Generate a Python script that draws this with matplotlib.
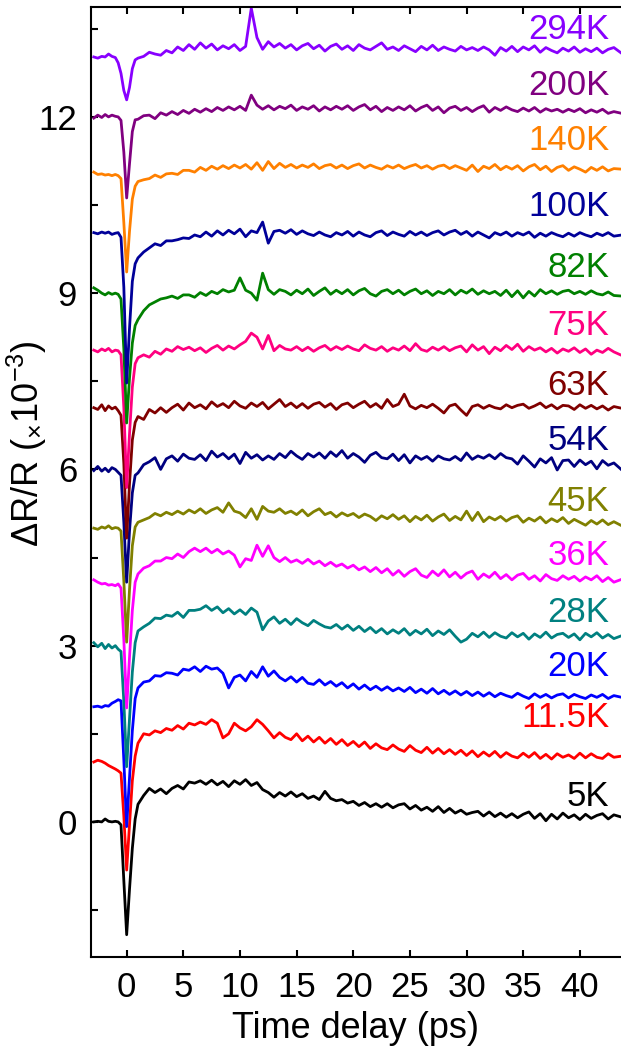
import numpy as np
import matplotlib.pyplot as plt

plt.rcParams['font.family'] = ['Liberation Sans', 'DejaVu Sans']
plt.rcParams['mathtext.fontset'] = 'custom'
plt.rcParams['mathtext.rm'] = 'Liberation Sans'
plt.rcParams['mathtext.it'] = 'Liberation Sans:italic'

# time delay (ps)
t = [-2.9, -2.55, -2.2, -1.9, -1.6, -1.3, -1.0, -0.75, -0.5, -0.25,
     0.0, 0.25, 0.5, 0.75, 1.0, 1.5, 2.0, 2.5, 3.0, 3.5,
     4.0, 4.5, 5.0, 5.5, 6.0, 6.5, 7.0, 7.5, 8.0, 8.5,
     9.0, 9.5, 10.0, 10.5, 11.0, 11.5, 12.0, 12.5, 13.0, 13.5,
     14.0, 14.5, 15.0, 15.5, 16.0, 16.5, 17.0, 17.5, 18.0, 18.5,
     19.0, 19.5, 20.0, 20.5, 21.0, 21.5, 22.0, 22.5, 23.0, 23.5,
     24.0, 24.5, 25.0, 25.5, 26.0, 26.5, 27.0, 27.5, 28.0, 28.5,
     29.0, 29.5, 30.0, 30.5, 31.0, 31.5, 32.0, 32.5, 33.0, 33.5,
     34.0, 34.5, 35.0, 35.5, 36.0, 36.5, 37.0, 37.5, 38.0, 38.5,
     39.0, 39.5, 40.0, 40.5, 41.0, 41.5, 42.0, 42.5, 43.0, 43.7]

# dR/R (x1e-3), raw traces
dr_5K = [0.00, 0.01, 0.00, 0.05, 0.01, 0.00, 0.01, 0.00, -0.05, -1.00,
         -1.92, -1.15, -0.45, 0.05, 0.30, 0.45, 0.57, 0.50, 0.56, 0.48,
         0.57, 0.62, 0.56, 0.68, 0.66, 0.70, 0.64, 0.71, 0.63, 0.69,
         0.60, 0.70, 0.64, 0.72, 0.62, 0.67, 0.55, 0.50, 0.42, 0.50,
         0.44, 0.51, 0.43, 0.48, 0.40, 0.44, 0.38, 0.52, 0.40, 0.36,
         0.38, 0.32, 0.35, 0.28, 0.33, 0.26, 0.31, 0.25, 0.31, 0.24,
         0.29, 0.31, 0.22, 0.28, 0.20, 0.25, 0.18, 0.26, 0.16, 0.23,
         0.15, 0.20, 0.13, 0.16, 0.18, 0.10, 0.17, 0.09, 0.15, 0.08,
         0.14, 0.07, 0.13, 0.17, 0.06, 0.14, 0.02, 0.13, 0.05, 0.15,
         0.07, 0.12, 0.04, 0.13, 0.06, 0.11, 0.14, 0.05, 0.12, 0.08]
dr_11K = [0.02, 0.05, 0.03, 0.00, -0.04, -0.07, -0.10, -0.13, -0.17, -0.90,
          -1.82, -1.05, -0.30, 0.12, 0.34, 0.50, 0.48, 0.55, 0.52, 0.59,
          0.56, 0.64, 0.58, 0.68, 0.65, 0.70, 0.66, 0.74, 0.68, 0.43,
          0.50, 0.68, 0.60, 0.55, 0.62, 0.74, 0.66, 0.55, 0.43, 0.52,
          0.44, 0.40, 0.50, 0.38, 0.46, 0.36, 0.44, 0.34, 0.42, 0.32,
          0.40, 0.30, 0.37, 0.28, 0.36, 0.25, 0.33, 0.26, 0.23, 0.31,
          0.24, 0.20, 0.30, 0.22, 0.18, 0.27, 0.17, 0.25, 0.16, 0.23,
          0.15, 0.22, 0.13, 0.21, 0.11, 0.19, 0.12, 0.20, 0.10, 0.18,
          0.12, 0.09, 0.17, 0.10, 0.18, 0.08, 0.15, 0.07, 0.16, 0.10,
          0.14, 0.08, 0.17, 0.09, 0.16, 0.10, 0.08, 0.16, 0.10, 0.12]
dr_20K = [-0.04, -0.03, -0.05, -0.02, -0.03, 0.02, 0.05, 0.08, 0.06, -0.95,
          -2.08, -1.25, -0.45, 0.10, 0.28, 0.38, 0.40, 0.49, 0.48, 0.54,
          0.53, 0.50, 0.60, 0.58, 0.64, 0.56, 0.65, 0.60, 0.62, 0.53,
          0.28, 0.46, 0.50, 0.40, 0.56, 0.46, 0.64, 0.48, 0.57, 0.46,
          0.40, 0.47, 0.38, 0.46, 0.36, 0.34, 0.42, 0.33, 0.39, 0.31,
          0.37, 0.28, 0.35, 0.26, 0.33, 0.25, 0.31, 0.24, 0.30, 0.23,
          0.28, 0.22, 0.29, 0.20, 0.26, 0.19, 0.27, 0.18, 0.24, 0.17,
          0.23, 0.16, 0.22, 0.15, 0.21, 0.14, 0.20, 0.13, 0.19, 0.15,
          0.12, 0.19, 0.14, 0.10, 0.18, 0.12, 0.17, 0.11, 0.16, 0.18,
          0.11, 0.17, 0.13, 0.10, 0.16, 0.12, 0.17, 0.10, 0.15, 0.12]
dr_28K = [0.05, -0.02, 0.04, -0.05, 0.02, -0.04, 0.00, -0.06, -0.10, -0.95,
          -2.06, -1.25, -0.45, 0.05, 0.25, 0.32, 0.38, 0.47, 0.46, 0.52,
          0.50, 0.57, 0.48, 0.60, 0.60, 0.62, 0.68, 0.60, 0.66, 0.56,
          0.63, 0.54, 0.61, 0.53, 0.64, 0.57, 0.27, 0.42, 0.49, 0.38,
          0.45, 0.36, 0.46, 0.39, 0.34, 0.43, 0.37, 0.32, 0.30, 0.36,
          0.28, 0.35, 0.26, 0.33, 0.24, 0.31, 0.22, 0.29, 0.20, 0.27,
          0.21, 0.29, 0.18, 0.26, 0.20, 0.28, 0.17, 0.25, 0.19, 0.27,
          0.16, 0.06, 0.11, 0.21, 0.15, 0.23, 0.14, 0.22, 0.16, 0.13,
          0.22, 0.15, 0.21, 0.11, 0.20, 0.14, 0.23, 0.13, 0.19, 0.21,
          0.14, 0.20, 0.10, 0.21, 0.15, 0.22, 0.13, 0.19, 0.12, 0.17]
dr_36K = [0.12, 0.08, 0.05, 0.06, 0.03, 0.04, 0.02, 0.05, -0.02, -0.90,
          -2.06, -1.20, -0.40, 0.08, 0.22, 0.32, 0.36, 0.44, 0.44, 0.50,
          0.48, 0.56, 0.50, 0.60, 0.66, 0.60, 0.66, 0.58, 0.64, 0.56,
          0.61, 0.54, 0.34, 0.48, 0.45, 0.71, 0.52, 0.70, 0.50, 0.43,
          0.50, 0.42, 0.46, 0.40, 0.47, 0.39, 0.44, 0.36, 0.42, 0.35,
          0.39, 0.32, 0.37, 0.29, 0.34, 0.26, 0.33, 0.24, 0.31, 0.20,
          0.28, 0.18, 0.26, 0.31, 0.20, 0.16, 0.27, 0.19, 0.29, 0.17,
          0.25, 0.15, 0.23, 0.27, 0.13, 0.22, 0.16, 0.25, 0.14, 0.21,
          0.12, 0.20, 0.23, 0.13, 0.19, 0.10, 0.21, 0.14, 0.11, 0.19,
          0.13, 0.18, 0.10, 0.17, 0.12, 0.19, 0.09, 0.16, 0.08, 0.13]
dr_45K = [0.00, -0.02, 0.02, 0.00, 0.04, -0.01, 0.01, 0.00, -0.05, -0.90,
          -1.94, -1.05, -0.30, 0.02, 0.10, 0.14, 0.18, 0.25, 0.21, 0.27,
          0.23, 0.29, 0.24, 0.31, 0.26, 0.33, 0.25, 0.31, 0.35, 0.27,
          0.43, 0.29, 0.26, 0.18, 0.33, 0.15, 0.37, 0.29, 0.27, 0.33,
          0.25, 0.29, 0.23, 0.31, 0.21, 0.28, 0.33, 0.23, 0.27, 0.19,
          0.26, 0.21, 0.25, 0.18, 0.24, 0.20, 0.13, 0.21, 0.16, 0.23,
          0.15, 0.21, 0.11, 0.20, 0.14, 0.22, 0.12, 0.19, 0.24, 0.13,
          0.20, 0.14, 0.29, 0.13, 0.27, 0.11, 0.19, 0.14, 0.20, 0.12,
          0.18, 0.21, 0.10, 0.17, 0.12, 0.19, 0.09, 0.16, 0.11, 0.18,
          0.08, 0.15, 0.10, 0.05, 0.13, 0.07, 0.14, 0.06, 0.11, 0.04]
dr_54K = [-0.02, 0.05, -0.03, 0.02, -0.04, 0.03, 0.00, -0.05, -0.10, -0.90,
          -1.92, -1.05, -0.40, -0.10, -0.06, 0.08, 0.13, 0.20, 0.00, 0.18,
          0.23, 0.14, 0.26, 0.19, 0.17, 0.25, 0.15, 0.31, 0.21, 0.27,
          0.18, 0.26, 0.10, 0.29, 0.19, 0.25, 0.16, 0.23, 0.17, 0.27,
          0.20, 0.31, 0.23, 0.17, 0.27, 0.21, 0.28, 0.19, 0.30, 0.22,
          0.32, 0.19, 0.27, 0.21, 0.12, 0.24, 0.29, 0.20, 0.18, 0.26,
          0.15, 0.25, 0.11, 0.23, 0.17, 0.22, 0.14, 0.23, 0.18, 0.16,
          0.22, 0.15, 0.28, 0.17, 0.23, 0.19, 0.25, 0.18, 0.27, 0.20,
          0.18, 0.09, 0.23, 0.14, 0.04, 0.18, 0.11, 0.20, -0.01, 0.15,
          0.16, 0.05, 0.16, 0.08, 0.14, 0.01, 0.15, 0.07, 0.11, -0.01]
dr_63K = [0.05, 0.02, 0.10, 0.00, 0.08, 0.03, 0.06, 0.00, -0.08, -0.90,
          -2.17, -1.25, -0.50, -0.20, -0.10, -0.15, 0.02, -0.04, 0.05, -0.03,
          0.05, 0.11, 0.01, 0.13, 0.05, 0.10, 0.03, 0.15, 0.07, 0.12,
          0.05, 0.16, 0.08, 0.04, 0.13, 0.07, 0.14, 0.03, 0.11, 0.19,
          0.07, 0.13, 0.05, 0.12, 0.04, 0.11, 0.14, 0.06, 0.12, 0.02,
          0.10, 0.13, 0.05, 0.11, 0.16, 0.06, 0.12, 0.04, 0.19, 0.07,
          0.11, 0.28, 0.08, 0.03, 0.09, 0.05, 0.11, 0.04, -0.04, 0.08,
          0.11, 0.01, -0.08, 0.07, 0.10, 0.04, 0.09, 0.05, 0.03, 0.10,
          0.05, 0.09, 0.11, 0.04, 0.08, 0.13, 0.05, 0.10, 0.03, 0.09,
          0.08, 0.02, 0.10, 0.04, 0.09, 0.03, 0.08, 0.01, 0.07, 0.04]
dr_75K = [0.03, 0.00, 0.05, 0.02, 0.06, 0.00, 0.03, 0.02, -0.05, -0.95,
          -2.31, -1.40, -0.60, -0.20, -0.10, -0.05, -0.09, 0.01, -0.04, 0.05,
          0.01, 0.09, 0.04, 0.08, 0.02, 0.07, -0.01, 0.06, 0.11, 0.03,
          0.10, 0.05, 0.12, 0.18, 0.32, 0.25, 0.05, 0.28, 0.02, 0.11,
          0.05, 0.03, 0.09, 0.02, 0.08, 0.01, 0.07, 0.11, 0.03, 0.09,
          0.04, 0.10, 0.05, 0.02, 0.12, 0.06, 0.03, 0.09, 0.01, 0.07,
          0.03, 0.10, 0.02, 0.14, 0.04, 0.01, 0.08, 0.03, 0.09, 0.02,
          0.07, 0.10, 0.00, 0.12, 0.03, 0.09, -0.03, 0.08, 0.02, 0.11,
          0.04, 0.13, 0.01, 0.09, 0.03, 0.07, 0.00, 0.06, -0.02, 0.05,
          0.01, 0.07, -0.01, 0.05, -0.04, 0.03, -0.01, 0.06, 0.00, -0.06]
dr_82K = [0.09, 0.05, 0.00, -0.03, 0.01, -0.02, 0.00, -0.02, -0.10, -0.95,
          -2.21, -1.45, -0.85, -0.55, -0.45, -0.30, -0.20, -0.15, -0.10, -0.08,
          -0.05, -0.09, -0.03, -0.03, -0.07, 0.01, -0.04, 0.03, -0.01, 0.06,
          0.02, 0.05, 0.26, 0.05, 0.00, -0.12, 0.34, 0.06, -0.02, 0.06,
          0.03, -0.03, 0.05, -0.01, 0.07, -0.04, 0.03, 0.09, -0.02, 0.05,
          -0.01, 0.06, -0.03, 0.04, 0.08, -0.01, -0.05, 0.03, 0.06, -0.01,
          0.05, -0.03, 0.03, 0.07, -0.01, 0.04, -0.04, 0.03, -0.01, 0.06,
          -0.03, 0.05, 0.00, 0.07, -0.02, 0.04, -0.01, 0.03, -0.04, 0.05,
          -0.06, 0.04, -0.08, 0.03, -0.05, 0.06, -0.01, 0.04, -0.02, 0.03,
          0.05, -0.01, 0.03, -0.02, 0.04, -0.01, -0.03, 0.02, -0.04, -0.05]
dr_100K = [0.03, 0.01, 0.04, 0.02, 0.04, 0.00, 0.02, 0.03, -0.05, -0.90,
           -2.53, -1.60, -0.80, -0.50, -0.40, -0.30, -0.23, -0.16, -0.19, -0.11,
           -0.11, -0.09, -0.06, -0.07, -0.01, -0.04, 0.04, -0.03, 0.06, -0.01,
           0.07, 0.01, 0.09, -0.04, 0.06, 0.03, 0.21, -0.15, 0.05, 0.07,
           0.02, 0.08, 0.00, 0.06, 0.01, -0.02, 0.04, -0.01, -0.04, 0.03,
           -0.01, 0.05, -0.03, 0.04, -0.01, -0.04, 0.03, 0.06, -0.02, 0.04,
           0.00, -0.03, 0.05, -0.01, 0.04, -0.02, 0.03, 0.06, -0.01, 0.04,
           0.07, 0.00, 0.05, -0.03, 0.04, -0.01, -0.06, 0.03, -0.01, 0.04,
           -0.03, 0.03, -0.01, 0.04, -0.05, 0.02, -0.03, 0.03, -0.01, -0.04,
           0.02, -0.03, 0.03, -0.01, -0.04, 0.02, -0.02, 0.03, -0.03, -0.01]
dr_140K = [0.06, 0.02, 0.03, 0.01, 0.02, 0.00, 0.02, 0.00, -0.05, -0.80,
           -1.64, -0.95, -0.40, -0.18, -0.10, -0.07, -0.05, 0.01, -0.03, 0.03,
           0.04, 0.02, 0.09, 0.09, 0.06, 0.14, 0.09, 0.16, 0.11, 0.17,
           0.12, 0.18, 0.13, 0.19, 0.11, 0.22, 0.09, 0.24, 0.12, 0.21,
           0.14, 0.19, 0.13, 0.18, 0.14, 0.20, 0.12, 0.17, 0.19, 0.13,
           0.18, 0.12, 0.17, 0.20, 0.13, 0.18, 0.14, 0.11, 0.17, 0.13,
           0.18, 0.12, 0.16, 0.19, 0.13, 0.17, 0.11, 0.16, 0.18, 0.12,
           0.17, 0.13, 0.09, 0.18, 0.07, 0.16, 0.12, 0.19, 0.10, 0.16,
           0.11, 0.17, 0.08, 0.15, 0.19, 0.10, 0.16, 0.07, 0.14, 0.17,
           0.09, 0.15, 0.11, 0.06, 0.14, 0.09, 0.15, 0.08, 0.12, 0.11]
dr_200K = [-0.02, 0.03, -0.01, 0.04, 0.00, 0.03, 0.01, 0.00, -0.06, -0.60,
           -1.38, -0.80, -0.25, -0.05, -0.04, 0.02, 0.03, -0.03, 0.07, 0.03,
           0.09, 0.04, 0.11, 0.06, 0.13, 0.08, 0.14, 0.09, 0.16, 0.11,
           0.17, 0.12, 0.18, 0.11, 0.37, 0.20, 0.13, 0.19, 0.12, 0.18,
           0.14, 0.20, 0.11, 0.17, 0.13, 0.19, 0.10, 0.17, 0.12, 0.18,
           0.13, 0.19, 0.11, 0.17, 0.21, 0.12, 0.18, 0.09, 0.16, 0.11,
           0.17, 0.12, 0.19, 0.10, 0.16, 0.20, 0.11, 0.17, 0.07, 0.15,
           0.18, 0.11, 0.16, 0.09, 0.15, 0.19, 0.08, 0.16, 0.11, 0.17,
           0.12, 0.09, 0.15, 0.10, 0.16, 0.08, 0.14, 0.10, 0.13, 0.08,
           0.13, 0.09, 0.14, 0.07, 0.12, 0.08, 0.13, 0.06, 0.09, 0.06]
dr_294K = [0.02, 0.00, 0.03, 0.02, 0.07, 0.03, 0.01, -0.08, -0.26, -0.55,
           -0.71, -0.50, -0.18, -0.03, 0.00, 0.03, 0.10, 0.07, 0.05, 0.13,
           0.09, 0.19, 0.13, 0.23, 0.15, 0.26, 0.17, 0.24, 0.14, 0.21,
           0.16, 0.23, 0.13, 0.20, 0.85, 0.35, 0.15, 0.28, 0.19, 0.25,
           0.17, 0.23, 0.14, 0.21, 0.25, 0.16, 0.22, 0.12, 0.20, 0.24,
           0.15, 0.21, 0.13, 0.23, 0.17, 0.14, 0.20, 0.26, 0.15, 0.19,
           0.13, 0.21, 0.16, 0.11, 0.20, 0.14, 0.22, 0.13, 0.19, 0.15,
           0.12, 0.20, 0.14, 0.18, 0.13, 0.19, 0.14, 0.05, 0.18, 0.12,
           0.20, 0.11, 0.19, 0.14, 0.21, 0.10, 0.18, 0.13, 0.09, 0.17,
           0.12, 0.19, 0.10, 0.16, 0.11, 0.17, 0.09, 0.15, 0.18, 0.08]

temps = ['5K', '11.5K', '20K', '28K', '36K', '45K', '54K', '63K',
         '75K', '82K', '100K', '140K', '200K', '294K']
traces = [dr_5K, dr_11K, dr_20K, dr_28K, dr_36K, dr_45K, dr_54K, dr_63K,
          dr_75K, dr_82K, dr_100K, dr_140K, dr_200K, dr_294K]
offsets = [0, 1, 2, 3, 4, 5, 6, 7, 8, 9, 10, 11, 12, 13]
colors = ['#000000', '#FF0000', '#0000FF', '#008080', '#FF00FF', '#808000',
          '#000080', '#800000', '#FF0080', '#008000', '#000099', '#FF8000',
          '#800080', '#8800FF']
label_y = [0.43, 1.77, 2.64, 3.57, 4.54, 5.45, 6.5, 7.42, 8.45, 9.44,
           10.48, 11.6, 12.54, 13.49]

fig = plt.figure(figsize=(6.21, 10.48), dpi=100)
ax = fig.add_axes([0.1465, 0.0868, 0.8535, 0.9065])

for tr, off, c, name, ly in zip(traces, offsets, colors, temps, label_y):
    ax.plot(t, np.array(tr) + off, color=c, lw=2.0)
    ax.text(42.6, ly, name, color=c, ha='right', va='center', fontsize=25)

ax.set_xlim(-3.15, 43.63)
ax.set_ylim(-2.3, 13.87)
ax.set_xticks(range(0, 45, 5))
ax.set_yticks([0, 3, 6, 9, 12])
ax.set_yticks([-1.5, 1.5, 4.5, 7.5, 10.5, 13.5], minor=True)
ax.tick_params(axis='both', which='both', direction='in', length=5,
               width=1.5, labelsize=25, pad=10)
ax.tick_params(axis='x', top=True)
ax.spines['right'].set_visible(False)
for s in ['left', 'bottom', 'top']:
    ax.spines[s].set_linewidth(1.5)

ax.set_xlabel('Time delay (ps)', fontsize=26, labelpad=5)
ax.set_ylabel('ΔR/R ($_{\\times}$10$^{-3}$)', fontsize=26)
ax.yaxis.set_label_coords(-0.08, 0.54)

fig.savefig('out.png', dpi=100)
